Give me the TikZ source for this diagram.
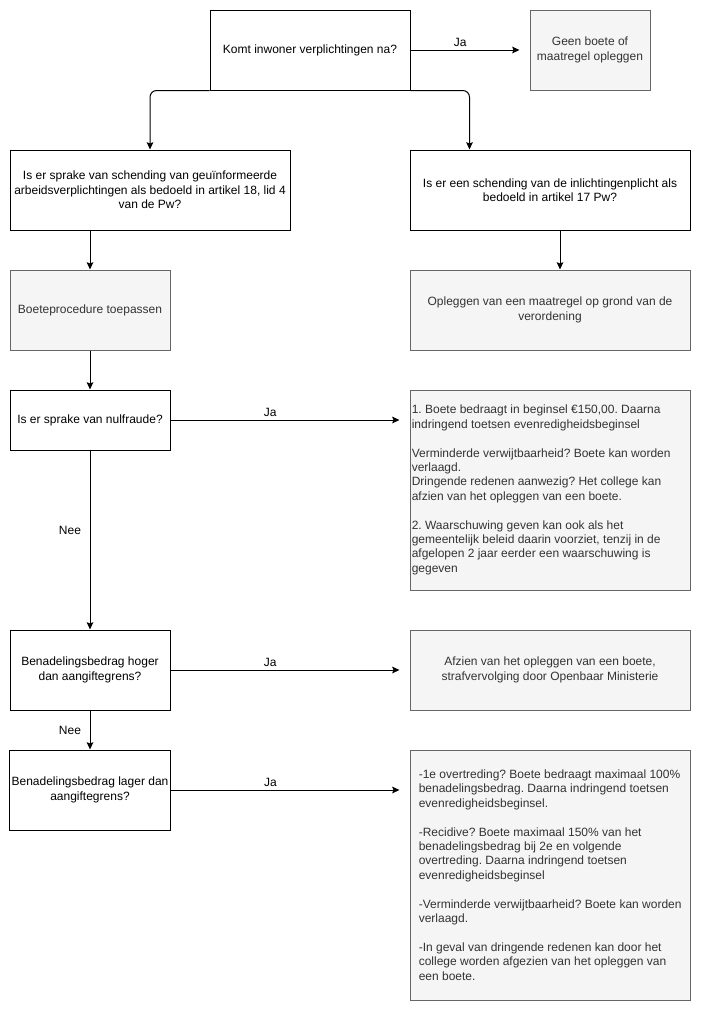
\documentclass[tikz,border=0pt]{standalone}
\usepackage{fontspec}
\setmainfont{Liberation Sans}
\usetikzlibrary{arrows.meta,calc}
\definecolor{gfill}{HTML}{F5F5F5}
\definecolor{gline}{HTML}{666666}
\definecolor{gtext}{HTML}{333333}
\frenchspacing
\begin{document}
\begin{tikzpicture}[x=0.75pt,y=-0.75pt,
  every node/.style={font=\fontsize{9}{10.8}\selectfont},
  wbox/.style={draw=black,fill=white,line width=0.75pt,align=center,inner sep=1.5pt,text=black},
  gbox/.style={draw=gline,fill=gfill,line width=0.75pt,align=center,inner sep=1.5pt,text=gtext},
  txt/.style={align=left,inner sep=0pt,text=gtext},
  conn/.style={draw=black,line width=0.75pt,-{Stealth[length=5.5pt,width=5pt,inset=1pt]}},
  lbl/.style={text=black,inner sep=2pt},
]
\useasboundingbox[fill=white] (0,0) rectangle (701,1011);

% row 1
\node[wbox,minimum width=150pt,minimum height=60pt] (q1) at (310,50) {Komt inwoner verplichtingen na?};
\node[gbox,minimum width=90pt,minimum height=60pt] (geen) at (590,50) {Geen boete of\\maatregel opleggen};

% row 2
\node[wbox,minimum width=210pt,minimum height=60pt] (q2l) at (150,190) {Is er sprake van schending van geuïnformeerde\\arbeidsverplichtingen als bedoeld in artikel 18, lid 4\\van de Pw?};
\node[wbox,minimum width=210pt,minimum height=60pt] (q2r) at (550,190) {Is er een schending van de inlichtingenplicht als\\bedoeld in artikel 17 Pw?};

% row 3
\node[gbox,minimum width=120pt,minimum height=60pt] (a3l) at (90,310) {Boeteprocedure toepassen};
\node[gbox,minimum width=210pt,minimum height=60pt] (a3r) at (550,310) {Opleggen van een maatregel op grond van de\\verordening};

% row 4
\node[wbox,minimum width=120pt,minimum height=45pt] (q4) at (90,420) {Is er sprake van nulfraude?};
\node[gbox,minimum width=210pt,minimum height=150pt] (a4) at (550,490) {};
\node[txt,anchor=west] (a4t) at ($(a4.west)+(2,0)$) {1. Boete bedraagt in beginsel €150,00. Daarna\\indringend toetsen evenredigheidsbeginsel\\[10.8pt]Verminderde verwijtbaarheid? Boete kan worden\\verlaagd.\\Dringende redenen aanwezig? Het college kan\\afzien van het opleggen van een boete.\\[10.8pt]2. Waarschuwing geven kan ook als het\\gemeentelijk beleid daarin voorziet, tenzij in de\\afgelopen 2 jaar eerder een waarschuwing is\\gegeven};

% row 5
\node[wbox,minimum width=120pt,minimum height=60pt] (q5) at (90,670) {Benadelingsbedrag hoger\\dan aangiftegrens?};
\node[gbox,minimum width=210pt,minimum height=60pt] (a5) at (550,670) {Afzien van het opleggen van een boete,\\strafvervolging door Openbaar Ministerie};

% row 6
\node[wbox,minimum width=120pt,minimum height=60pt] (q6) at (90,790) {Benadelingsbedrag lager dan\\aangiftegrens?};
\node[gbox,minimum width=210pt,minimum height=187.5pt] (a6) at (550,875) {};
\node[txt,anchor=west] (a6t) at ($(a6.west)+(9,0)$) {-1e overtreding? Boete bedraagt maximaal 100\%\\benadelingsbedrag. Daarna indringend toetsen\\evenredigheidsbeginsel.\\[10.8pt]-Recidive? Boete maximaal 150\% van het\\benadelingsbedrag bij 2e en volgende\\overtreding. Daarna indringend toetsen\\evenredigheidsbeginsel\\[10.8pt]-Verminderde verwijtbaarheid? Boete kan worden\\verlaagd.\\[10.8pt]-In geval van dringende redenen kan door het\\college worden afgezien van het opleggen van\\een boete.};

% connectors
\draw[conn,shorten >=7.5pt] (q1.east) -- node[lbl,above,pos=0.417] {Ja} (q1.east -| geen.west);
\draw[conn,rounded corners=5pt] (q1.south west) -| (q2l.north);
\draw[conn,rounded corners=5pt] (q1.south east) -| ($(q2r.north west)+(60,0)$);
\draw[conn] (a3l.north |- q2l.south) -- (a3l.north);
\draw[conn] ($(q2r.south)+(10,0)$) -- ($(a3r.north)+(10,0)$);
\draw[conn] (a3l.south) -- (q4.north);
\draw[conn,shorten >=7.5pt] (q4.east) -- node[lbl,above,pos=0.417] {Ja} (q4.east -| a4.west);
\draw[conn] (q4.south) -- node[lbl,pos=0.444,xshift=-15pt] {Nee} (q5.north);
\draw[conn,shorten >=7.5pt] (q5.east) -- node[lbl,above,pos=0.417] {Ja} (q5.east -| a5.west);
\draw[conn] (q5.south) -- node[lbl,midway,xshift=-15pt] {Nee} (q6.north);
\draw[conn,shorten >=7.5pt] (q6.east) -- node[lbl,above,pos=0.417] {Ja} (q6.east -| a6.west);
\end{tikzpicture}
\end{document}
